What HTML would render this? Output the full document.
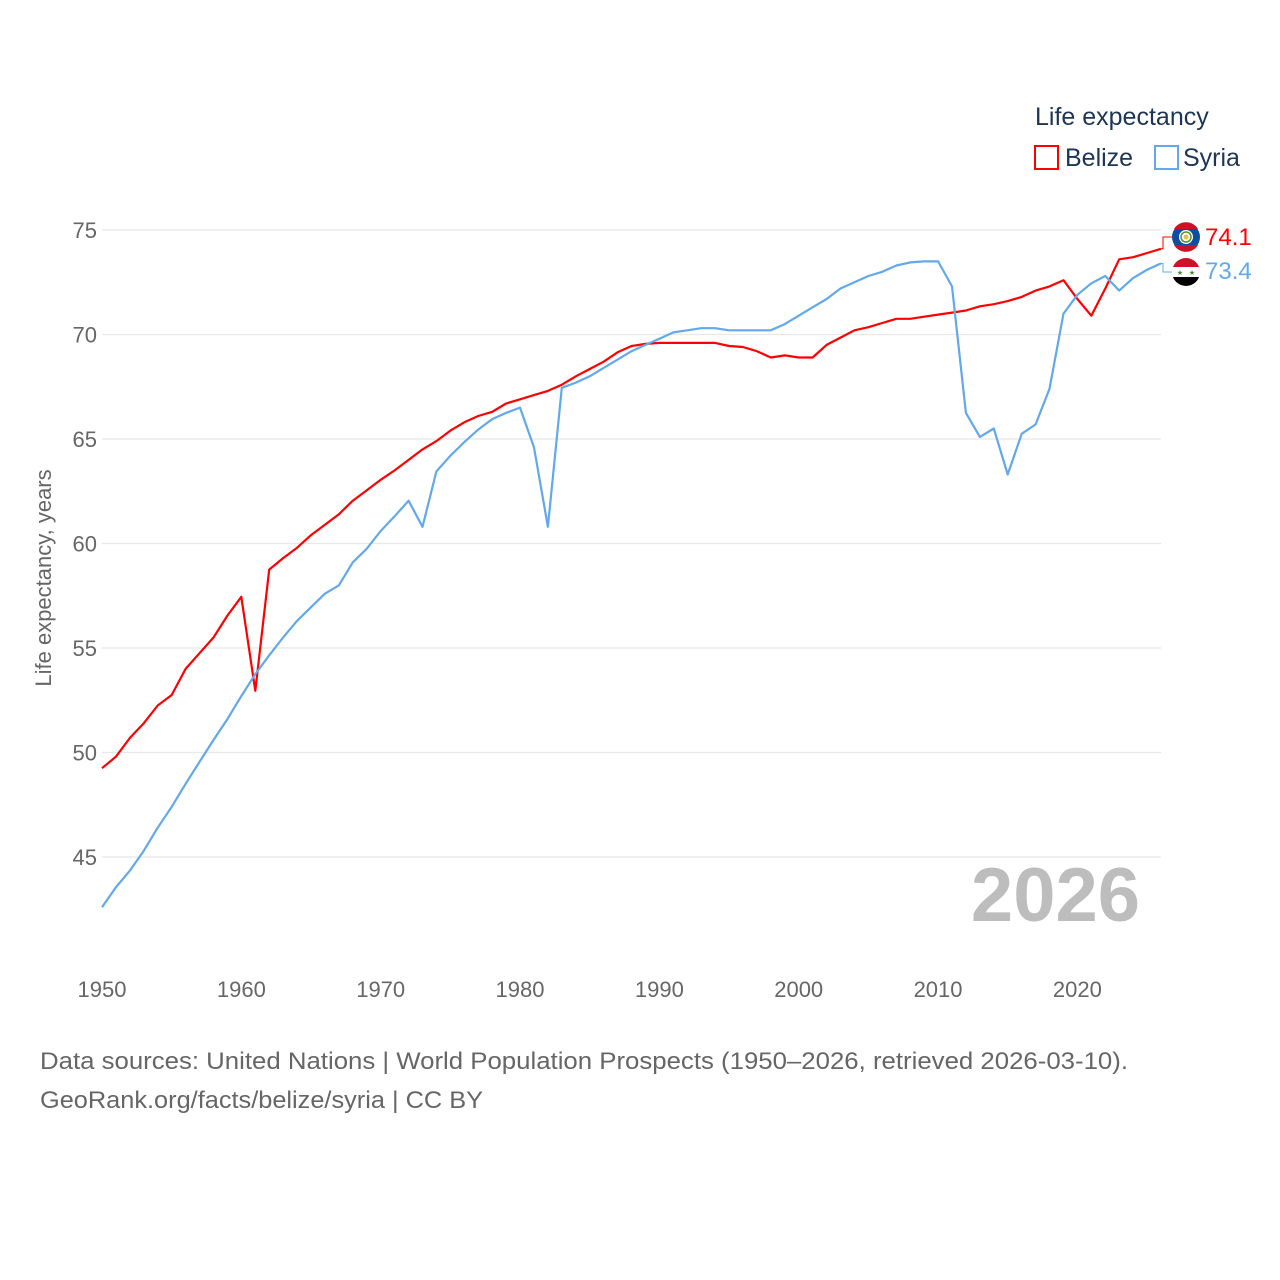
<!DOCTYPE html>
<html><head><meta charset="utf-8"><style>
html,body{margin:0;padding:0;background:#fff;width:1280px;height:1280px;overflow:hidden}
svg text{font-family:"Liberation Sans",sans-serif}
</style></head><body>
<svg id="chart" width="1280" height="1280">
  <text x="1035" y="125" font-size="25" fill="#1d3557">Life expectancy</text>
  <g>
    <rect x="1035" y="146" width="23" height="23" fill="none" stroke="#ff0000" stroke-width="2"/>
    <text x="1065" y="166" font-size="25" fill="#1d3557">Belize</text>
  </g>
  <g>
    <rect x="1155" y="146" width="23" height="23" fill="none" stroke="#62a8ea" stroke-width="2"/>
    <text x="1183" y="166" font-size="25" fill="#1d3557">Syria</text>
  </g>
  <g id="grid"></g>
  <g id="yticks"></g>
  <g id="xticks"></g>
  <text x="0" y="0" transform="translate(51,578) rotate(-90)" text-anchor="middle" font-size="22" fill="#666">Life expectancy, years</text>
  <text x="1140" y="921" text-anchor="end" font-size="76" font-weight="bold" fill="#bdbdbd">2026</text>
  <g id="lines"></g>
  <g>
    <circle cx="1186" cy="237" r="14" fill="#0b4ea2"/>
    <path d="M1174 229 A14 14 0 0 1 1198 229 Z" fill="#ce1126"/>
    <path d="M1174 245 A14 14 0 0 0 1198 245 Z" fill="#ce1126"/>
    <circle cx="1186" cy="237" r="7" fill="#fff"/>
    <circle cx="1186" cy="237" r="5" fill="none" stroke="#5a8f3a" stroke-width="1.5"/>
    <circle cx="1186" cy="237" r="2.5" fill="#e5c34a"/>
  </g>
  <g>
    <clipPath id="sc"><circle cx="1186" cy="272" r="14"/></clipPath>
    <g clip-path="url(#sc)">
      <rect x="1172" y="258" width="28" height="10" fill="#ce1126"/>
      <rect x="1172" y="267" width="28" height="10" fill="#fff"/>
      <rect x="1172" y="277" width="28" height="10" fill="#000"/>
    </g>
    <text x="1180" y="275" font-size="7" fill="#3a8f2a" text-anchor="middle">★</text>
    <text x="1192" y="275" font-size="7" fill="#3a8f2a" text-anchor="middle">★</text>
  </g>
  <text x="1205" y="245" font-size="24" fill="#ff0000">74.1</text>
  <text x="1205" y="279" font-size="24" fill="#62a8ea">73.4</text>
  <text x="40" y="1069" font-size="24" fill="#666" textLength="1088" lengthAdjust="spacingAndGlyphs">Data sources: United Nations | World Population Prospects (1950–2026, retrieved 2026-03-10).</text>
  <text x="40" y="1108" font-size="24" fill="#666" textLength="443" lengthAdjust="spacingAndGlyphs">GeoRank.org/facts/belize/syria | CC BY</text>
</svg>
<script>
const startYear = 1950;
const belize = [49.25,49.8,50.7,51.4,52.25,52.75,54.0,54.75,55.5,56.55,57.45,52.95,58.75,59.3,59.8,60.4,60.9,61.4,62.05,62.55,63.05,63.5,64.0,64.5,64.9,65.4,65.8,66.1,66.3,66.7,66.9,67.1,67.3,67.6,68.0,68.35,68.7,69.15,69.45,69.55,69.6,69.6,69.6,69.6,69.6,69.45,69.4,69.2,68.9,69.0,68.9,68.9,69.5,69.85,70.2,70.35,70.55,70.75,70.75,70.85,70.95,71.05,71.15,71.35,71.45,71.6,71.8,72.1,72.3,72.6,71.7,70.9,72.2,73.6,73.7,73.9,74.1];
const syria = [42.6,43.55,44.35,45.3,46.4,47.4,48.5,49.55,50.6,51.6,52.7,53.75,54.65,55.5,56.3,56.95,57.6,58.0,59.1,59.75,60.6,61.3,62.05,60.8,63.45,64.2,64.85,65.45,65.95,66.25,66.5,64.6,60.8,67.45,67.7,68.0,68.4,68.8,69.2,69.5,69.8,70.1,70.2,70.3,70.3,70.2,70.2,70.2,70.2,70.5,70.9,71.3,71.7,72.2,72.5,72.8,73.0,73.3,73.45,73.5,73.5,72.3,66.25,65.1,65.5,63.3,65.25,65.7,67.4,71.0,71.9,72.45,72.8,72.1,72.7,73.1,73.4];
const yTicks = [45,50,55,60,65,70,75];
const xTicks = [1950,1960,1970,1980,1990,2000,2010,2020];
const NS = "http://www.w3.org/2000/svg";
function xs(yr){ return 102 + (yr-1950)*(1161-102)/76; }
function ys(v){ return 230 + (75-v)*20.9; }
const grid = document.getElementById('grid'), yt = document.getElementById('yticks'), xt = document.getElementById('xticks'), lines = document.getElementById('lines');
yTicks.forEach(t=>{
  const l = document.createElementNS(NS,'line');
  l.setAttribute('x1',102); l.setAttribute('x2',1161);
  l.setAttribute('y1',ys(t)); l.setAttribute('y2',ys(t));
  l.setAttribute('stroke','#e8e8e8'); l.setAttribute('stroke-width','1.2');
  
  
  grid.appendChild(l);
  const tx = document.createElementNS(NS,'text');
  tx.setAttribute('x',97); tx.setAttribute('y',ys(t)+8);
  tx.setAttribute('text-anchor','end'); tx.setAttribute('font-size','22'); tx.setAttribute('fill','#666');
  tx.textContent = t;
  
  
  yt.appendChild(tx);
});
xTicks.forEach(t=>{
  const tx = document.createElementNS(NS,'text');
  tx.setAttribute('x',xs(t)); tx.setAttribute('y',997);
  tx.setAttribute('text-anchor','middle'); tx.setAttribute('font-size','22'); tx.setAttribute('fill','#666');
  tx.textContent = t;
  
  
  xt.appendChild(tx);
});
function drawLine(vals,color,name,labelY){
  const p = document.createElementNS(NS,'polyline');
  const pts = vals.map((v,i)=>xs(startYear+i).toFixed(1)+','+ys(v).toFixed(1));
  p.setAttribute('points',pts.join(' '));
  p.setAttribute('fill','none'); p.setAttribute('stroke',color); p.setAttribute('stroke-width','2.2');
  p.setAttribute('stroke-linejoin','round');
  
  
  lines.appendChild(p);
  const last = vals[vals.length-1];
  const c = document.createElementNS(NS,'polyline');
  c.setAttribute('points',`${xs(startYear+vals.length-1)},${ys(last)} 1163,${ys(last)} 1163,${labelY} 1172,${labelY}`);
  c.setAttribute('fill','none'); c.setAttribute('stroke',color); c.setAttribute('stroke-width','1');
  
  
  lines.appendChild(c);
}
drawLine(belize,'#ff0000','belize-line',237);
drawLine(syria,'#62a8ea','syria-line',272);
</script>
</body></html>
